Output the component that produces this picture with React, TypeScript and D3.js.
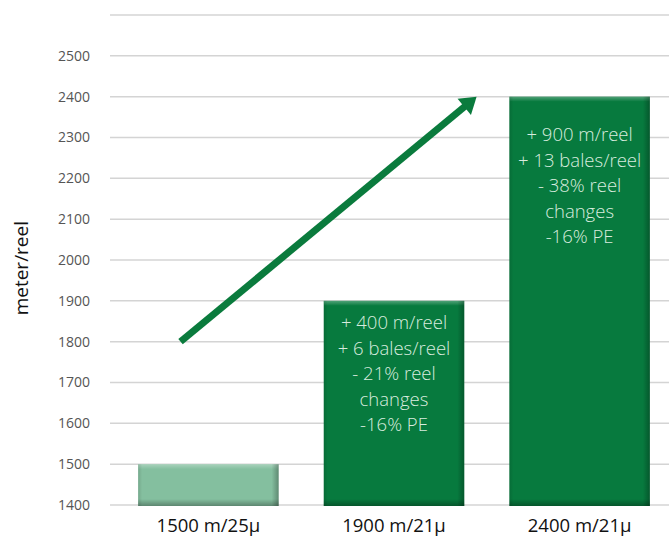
import React, { useEffect } from "react";
import * as d3 from "d3";

// chart values
const categories = ["1500 m/25µ", "1900 m/21µ", "2400 m/21µ"];
const reelLength = [1500, 1900, 2400];
const barNotes = [
  [],
  ["+ 400 m/reel", "+ 6 bales/reel", "- 21% reel", "changes", "-16% PE"],
  ["+ 900 m/reel", "+ 13 bales/reel", "- 38% reel", "changes", "-16% PE"],
];
const yTicks = [1400, 1500, 1600, 1700, 1800, 1900, 2000, 2100, 2200, 2300, 2400, 2500];
const yMax = 2600;
// arrow runs from (category index, value) to (category index, value)
const arrowFrom = { pos: -0.15, value: 1800 };
const arrowTo = { pos: 1.445, value: 2400 };

const W = 669;
const H = 538;
const margin = { top: 15, bottom: 33, left: 110 };
const font = "'Open Sans', 'Noto Sans', sans-serif";

const App: React.FC = () => {
  useEffect(() => {
    document.body.style.margin = "0";
  }, []);

  const x = d3
    .scaleBand()
    .domain(categories)
    .range([114, 674])
    .paddingInner(0.243)
    .paddingOuter(0.13);
  const y = d3
    .scaleLinear()
    .domain([1400, yMax])
    .range([H - margin.bottom, margin.top]);
  const xPos = d3
    .scaleLinear()
    .domain([0, categories.length - 1])
    .range([
      x(categories[0])! + x.bandwidth() / 2,
      x(categories[categories.length - 1])! + x.bandwidth() / 2,
    ]);

  const gridValues = [...yTicks, yMax];

  // arrow geometry
  const x1 = xPos(arrowFrom.pos);
  const y1 = y(arrowFrom.value);
  const x2 = xPos(arrowTo.pos);
  const y2 = y(arrowTo.value);
  const ang = Math.atan2(y2 - y1, x2 - x1);
  const headLen = 16;
  const headHalf = 10.5;
  const bx = x2 - headLen * Math.cos(ang);
  const by = y2 - headLen * Math.sin(ang);
  const nx = -Math.sin(ang);
  const ny = Math.cos(ang);
  const head = [
    [x2, y2],
    [bx + nx * headHalf, by + ny * headHalf],
    [bx - nx * headHalf, by - ny * headHalf],
  ];

  return (
    <svg width={W} height={H} style={{ display: "block" }}>
      <defs>
        <linearGradient id="topHi" x1="0" y1="0" x2="0" y2="1">
          <stop offset="0%" stopColor="#fff" stopOpacity={0.3} />
          <stop offset="100%" stopColor="#fff" stopOpacity={0} />
        </linearGradient>
        <linearGradient id="botSh" x1="0" y1="0" x2="0" y2="1">
          <stop offset="0%" stopColor="#000" stopOpacity={0} />
          <stop offset="100%" stopColor="#000" stopOpacity={0.3} />
        </linearGradient>
        <linearGradient id="rightSh" x1="0" y1="0" x2="1" y2="0">
          <stop offset="0%" stopColor="#000" stopOpacity={0} />
          <stop offset="100%" stopColor="#000" stopOpacity={0.28} />
        </linearGradient>
        <linearGradient id="leftSh" x1="0" y1="0" x2="1" y2="0">
          <stop offset="0%" stopColor="#000" stopOpacity={0.12} />
          <stop offset="100%" stopColor="#000" stopOpacity={0} />
        </linearGradient>
      </defs>

      {gridValues.map((v) => (
        <line
          key={v}
          x1={margin.left}
          x2={W}
          y1={y(v)}
          y2={y(v)}
          stroke="#d4d4d4"
          strokeWidth={1.5}
        />
      ))}

      {yTicks.map((v) => (
        <text
          key={v}
          x={90}
          y={y(v)}
          dy="0.35em"
          textAnchor="end"
          fontFamily={font}
          fontSize={14}
          fill="#555"
        >
          {v}
        </text>
      ))}

      <text
        transform={`translate(21, ${y(1980)}) rotate(-90)`}
        textAnchor="middle"
        dy="0.35em"
        fontFamily={font}
        fontSize={19}
        fill="#111"
      >
        meter/reel
      </text>

      {categories.map((c, i) => {
        const bx0 = x(c)!;
        const bw = x.bandwidth();
        const top = y(reelLength[i]);
        const bh = y(1400) - top + 1;
        const fill = i === 0 ? "#84bf9f" : "#077a3e";
        const noteTop = top + (i === 2 ? 38 : 22);
        return (
          <g key={c}>
            <rect x={bx0} y={top} width={bw} height={bh} fill={fill} />
            <rect x={bx0} y={top} width={bw} height={5} fill="url(#topHi)" />
            <rect x={bx0} y={top + bh - 7} width={bw} height={7} fill="url(#botSh)" />
            <rect x={bx0 + bw - 7} y={top} width={7} height={bh} fill="url(#rightSh)" />
            <rect x={bx0} y={top} width={4} height={bh} fill="url(#leftSh)" />
            {barNotes[i].map((line, j) => (
              <text
                key={j}
                x={bx0 + bw / 2}
                y={noteTop + j * 25.5}
                dy="0.35em"
                textAnchor="middle"
                fontFamily={font}
                fontWeight={300}
                fontSize={18.5}
                fill="#d8ecdf"
              >
                {line}
              </text>
            ))}
            <text
              x={bx0 + bw / 2}
              y={532}
              textAnchor="middle"
              fontFamily={font}
              fontSize={18.5}
              fill="#111"
            >
              {c}
            </text>
          </g>
        );
      })}

      <line
        x1={x1}
        y1={y1}
        x2={bx + 2 * Math.cos(ang)}
        y2={by + 2 * Math.sin(ang)}
        stroke="#0a7b3d"
        strokeWidth={7}
      />
      <polygon points={head.map((p) => p.join(",")).join(" ")} fill="#0a7b3d" />
    </svg>
  );
};

export default App;
